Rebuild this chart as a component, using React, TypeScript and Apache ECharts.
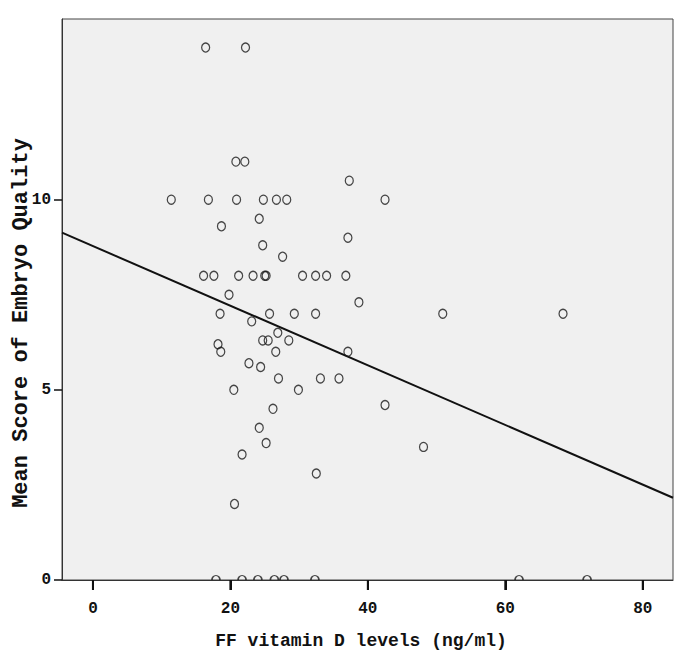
import React, { useEffect, useRef } from "react";
import * as echarts from "echarts";

// FF vitamin D levels (ng/ml) and mean embryo quality score per patient
const vitaminD = [
  16.4, 22.2, 20.8, 22.1, 37.3, 11.4, 16.8, 20.9, 24.8, 26.7, 28.2, 42.5,
  24.2, 18.7, 37.1, 24.7, 27.6, 16.1, 17.6, 21.2, 23.3, 25.0, 25.2, 30.5,
  32.4, 34.0, 36.8, 19.8, 38.7, 18.5, 25.7, 29.3, 32.4, 50.9, 68.4, 23.1,
  26.9, 24.7, 25.5, 28.5, 18.2, 18.6, 26.6, 37.1, 22.7, 24.4, 27.0, 33.1,
  35.8, 20.5, 29.9, 42.5, 26.2, 24.2, 25.2, 48.1, 21.7, 32.5, 20.6,
  17.9, 21.7, 24.0, 26.4, 27.8, 32.3, 62.0, 71.9,
];
const embryoScore = [
  14.0, 14.0, 11.0, 11.0, 10.5, 10.0, 10.0, 10.0, 10.0, 10.0, 10.0, 10.0,
  9.5, 9.3, 9.0, 8.8, 8.5, 8.0, 8.0, 8.0, 8.0, 8.0, 8.0, 8.0,
  8.0, 8.0, 8.0, 7.5, 7.3, 7.0, 7.0, 7.0, 7.0, 7.0, 7.0, 6.8,
  6.5, 6.3, 6.3, 6.3, 6.2, 6.0, 6.0, 6.0, 5.7, 5.6, 5.3, 5.3,
  5.3, 5.0, 5.0, 4.6, 4.5, 4.0, 3.6, 3.5, 3.3, 2.8, 2.0,
  0, 0, 0, 0, 0, 0, 0, 0,
];

// Linear fit line (intercept, slope)
const fitIntercept = 8.78;
const fitSlope = -0.0784;

const xMin = -4.5;
const xMax = 84.4;
const yMin = 0;
const yMax = 14.75;
const xTicks = [0, 20, 40, 60, 80];
const yTicks = [0, 5, 10];

const FONT = "'Liberation Mono', 'DejaVu Sans Mono', monospace";

export default function App() {
  const ref = useRef<HTMLDivElement>(null);
  useEffect(() => {
    if (!ref.current) return;
    const chart = echarts.init(ref.current, undefined, { renderer: "svg" });
    const pts = vitaminD.map((x, i) => [x, embryoScore[i]]);
    const nonZero = pts.filter((p) => p[1] !== 0);
    const zeros = pts.filter((p) => p[1] === 0);
    const fit = [
      [xMin, fitIntercept + fitSlope * xMin],
      [xMax, fitIntercept + fitSlope * xMax],
    ];
    const pointStyle = {
      color: "rgba(0,0,0,0)",
      borderColor: "#1a1a1a",
      borderWidth: 1.3,
    };
    chart.setOption({
      animation: false,
      grid: {
        left: 54,
        right: 4,
        top: 11,
        bottom: 77,
        show: true,
        backgroundColor: "#f0f0f0",
        borderColor: "#444",
        borderWidth: 1,
      },
      xAxis: {
        type: "value",
        min: xMin,
        max: xMax,
        splitLine: { show: false },
        axisLine: { show: true, onZero: false, lineStyle: { color: "#333", width: 1 } },
        axisTick: {
          show: true,
          length: 10,
          customValues: xTicks,
          lineStyle: { color: "#111", width: 2 },
        },
        axisLabel: {
          customValues: xTicks,
          margin: 21,
          color: "#111",
          fontFamily: FONT,
          fontWeight: "bold",
          fontSize: 16,
        },
      },
      yAxis: {
        type: "value",
        min: yMin,
        max: yMax,
        splitLine: { show: false },
        axisLine: { show: true, onZero: false, lineStyle: { color: "#333", width: 1 } },
        axisTick: {
          show: true,
          length: 8,
          customValues: yTicks,
          lineStyle: { color: "#111", width: 1.5 },
        },
        axisLabel: {
          customValues: yTicks,
          margin: 11,
          color: "#111",
          fontFamily: FONT,
          fontWeight: "bold",
          fontSize: 16,
        },
      },
      graphic: [
        {
          type: "text",
          x: 353,
          y: 633,
          style: {
            text: "FF vitamin D levels (ng/ml)",
            fontFamily: FONT,
            fontWeight: "bold",
            fontSize: 18,
            fill: "#111",
            textAlign: "center",
            textVerticalAlign: "middle",
          },
        },
        {
          type: "text",
          x: 13,
          y: 315,
          rotation: Math.PI / 2,
          style: {
            text: "Mean Score of Embryo Quality",
            fontFamily: FONT,
            fontWeight: "bold",
            fontSize: 22,
            fill: "#111",
            textAlign: "center",
            textVerticalAlign: "middle",
          },
        },
      ],
      series: [
        {
          type: "line",
          data: fit,
          symbol: "none",
          lineStyle: { color: "#111", width: 2 },
          z: 3,
        },
        {
          type: "scatter",
          data: nonZero,
          symbol: "circle",
          symbolSize: [8, 9],
          itemStyle: pointStyle,
          z: 4,
        },
        {
          type: "scatter",
          data: zeros,
          symbol: "path://M0,5 C0,2.24 2.24,0 5,0 C7.76,0 10,2.24 10,5",
          symbolSize: [8, 4.5],
          symbolOffset: [0, "-50%"],
          itemStyle: pointStyle,
          z: 4,
        },
      ],
    });
    // x-axis tick marks placed via the axis scale (fallback in case axisTick is not drawn)
    const tickGraphics = xTicks.map((v) => {
      const p = chart.convertToPixel({ gridIndex: 0 }, [v, yMin]) as number[];
      return {
        type: "line",
        z: 100,
        shape: { x1: p[0], y1: p[1], x2: p[0], y2: p[1] + 10 },
        style: { stroke: "#111", lineWidth: 2 },
      };
    });
    chart.setOption({ graphic: tickGraphics.map((g, i) => ({ id: "xt" + i, ...g })) });
    return () => chart.dispose();
  }, []);
  return <div ref={ref} style={{ width: 669, height: 649 }} />;
}
